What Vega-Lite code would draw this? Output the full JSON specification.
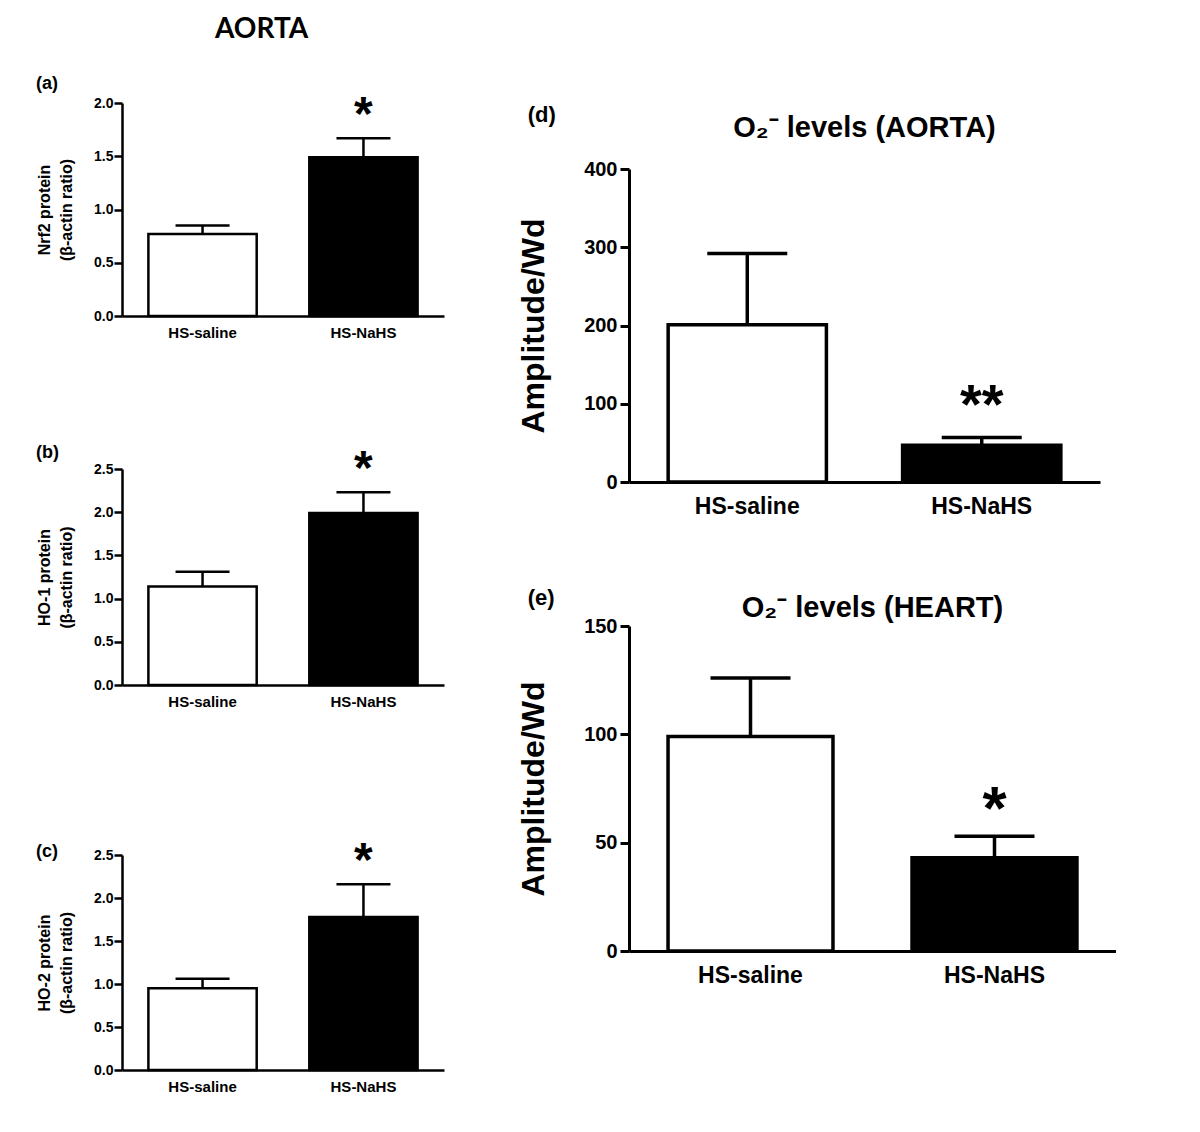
{
  "$schema": "https://vega.github.io/schema/vega-lite/v6.json",
  "padding": {"left": 36, "top": 16, "right": 0, "bottom": 0},
  "background": "white",
  "title": {"text": "AORTA", "font": "Lato", "fontSize": 28, "anchor": "start", "frame": "bounds", "dx": 179, "offset": 31},
  "datasets": {
    "blots": [
      {"panel": "a", "group": "HS-saline", "value": 0.77, "err": 0.85, "sig": ""},
      {"panel": "a", "group": "HS-NaHS", "value": 1.49, "err": 1.67, "sig": "*"},
      {"panel": "b", "group": "HS-saline", "value": 1.14, "err": 1.31, "sig": ""},
      {"panel": "b", "group": "HS-NaHS", "value": 1.99, "err": 2.23, "sig": "*"},
      {"panel": "c", "group": "HS-saline", "value": 0.95, "err": 1.06, "sig": ""},
      {"panel": "c", "group": "HS-NaHS", "value": 1.78, "err": 2.16, "sig": "*"}
    ],
    "o2": [
      {"panel": "d", "group": "HS-saline", "value": 201, "err": 292, "sig": ""},
      {"panel": "d", "group": "HS-NaHS", "value": 47, "err": 57, "sig": "**"},
      {"panel": "e", "group": "HS-saline", "value": 99, "err": 126, "sig": ""},
      {"panel": "e", "group": "HS-NaHS", "value": 43, "err": 53, "sig": "*"}
    ]
  },
  "concat": [
    {
      "spacing": 129,
      "vconcat": [
        {
          "spacing": 104,
          "vconcat": [
            {
              "width": 322, "height": 213,
              "title": {"text": "(a)", "anchor": "start", "frame": "group", "dx": -86, "fontSize": 18, "offset": -1},
              "data": {"name": "blots"},
              "transform": [{"filter": "datum.panel == 'a'"}],
              "encoding": {
                "x": {"field": "group", "type": "nominal", "sort": ["HS-saline", "HS-NaHS"],
                  "scale": {"paddingInner": 0.327, "paddingOuter": 0.164},
                  "axis": {"title": null, "ticks": false, "tickSize": 0, "labelAngle": 0, "labelFontSize": 15, "labelPadding": 9, "domainWidth": 2.5}},
                "y": {"field": "value", "type": "quantitative", "scale": {"domain": [0, 2], "nice": false},
                  "axis": {"title": ["Nrf2 protein", "(β-actin ratio)"], "values": [0, 0.5, 1, 1.5, 2], "format": ".1f",
                    "labelFontSize": 14, "labelPadding": 1, "tickSize": 8, "tickWidth": 2.5, "domainWidth": 2.5,
                    "titleFontSize": 16, "titleLineHeight": 22, "titlePadding": 19}}
              },
              "layer": [
                {"mark": {"type": "bar", "stroke": "black", "strokeWidth": 2.5},
                  "encoding": {"fill": {"field": "group", "type": "nominal", "scale": {"domain": ["HS-saline", "HS-NaHS"], "range": ["white", "black"]}, "legend": null}}},
                {"mark": {"type": "rule", "strokeWidth": 2.5, "color": "black"}, "encoding": {"y2": {"field": "err"}}},
                {"mark": {"type": "tick", "thickness": 2.5, "size": 54, "color": "black", "opacity": 1},
                  "encoding": {"y": {"field": "err", "type": "quantitative"}}},
                {"mark": {"type": "text", "fontSize": 48, "fontWeight": "bold", "baseline": "alphabetic", "dy": -8, "color": "black"},
                  "encoding": {"y": {"field": "err", "type": "quantitative"}, "text": {"field": "sig"}}}
              ]
            },
            {
              "width": 322, "height": 216,
              "title": {"text": "(b)", "anchor": "start", "frame": "group", "dx": -86, "fontSize": 18, "offset": -16},
              "data": {"name": "blots"},
              "transform": [{"filter": "datum.panel == 'b'"}],
              "encoding": {
                "x": {"field": "group", "type": "nominal", "sort": ["HS-saline", "HS-NaHS"],
                  "scale": {"paddingInner": 0.327, "paddingOuter": 0.164},
                  "axis": {"title": null, "ticks": false, "tickSize": 0, "labelAngle": 0, "labelFontSize": 15, "labelPadding": 9, "domainWidth": 2.5}},
                "y": {"field": "value", "type": "quantitative", "scale": {"domain": [0, 2.5], "nice": false},
                  "axis": {"title": ["HO-1 protein", "(β-actin ratio)"], "values": [0, 0.5, 1, 1.5, 2, 2.5], "format": ".1f",
                    "labelFontSize": 14, "labelPadding": 1, "tickSize": 8, "tickWidth": 2.5, "domainWidth": 2.5,
                    "titleFontSize": 16, "titleLineHeight": 22, "titlePadding": 19}}
              },
              "layer": [
                {"mark": {"type": "bar", "stroke": "black", "strokeWidth": 2.5},
                  "encoding": {"fill": {"field": "group", "type": "nominal", "scale": {"domain": ["HS-saline", "HS-NaHS"], "range": ["white", "black"]}, "legend": null}}},
                {"mark": {"type": "rule", "strokeWidth": 2.5, "color": "black"}, "encoding": {"y2": {"field": "err"}}},
                {"mark": {"type": "tick", "thickness": 2.5, "size": 54, "color": "black", "opacity": 1},
                  "encoding": {"y": {"field": "err", "type": "quantitative"}}},
                {"mark": {"type": "text", "fontSize": 48, "fontWeight": "bold", "baseline": "alphabetic", "dy": -8, "color": "black"},
                  "encoding": {"y": {"field": "err", "type": "quantitative"}, "text": {"field": "sig"}}}
              ]
            }
          ],
          "resolve": {"scale": {"x": "independent", "y": "independent"}}
        },
        {
          "width": 322, "height": 215,
          "title": {"text": "(c)", "anchor": "start", "frame": "group", "dx": -86, "fontSize": 18, "offset": -23},
          "data": {"name": "blots"},
          "transform": [{"filter": "datum.panel == 'c'"}],
          "encoding": {
            "x": {"field": "group", "type": "nominal", "sort": ["HS-saline", "HS-NaHS"],
              "scale": {"paddingInner": 0.327, "paddingOuter": 0.164},
              "axis": {"title": null, "ticks": false, "tickSize": 0, "labelAngle": 0, "labelFontSize": 15, "labelPadding": 9, "domainWidth": 2.5}},
            "y": {"field": "value", "type": "quantitative", "scale": {"domain": [0, 2.5], "nice": false},
              "axis": {"title": ["HO-2 protein", "(β-actin ratio)"], "values": [0, 0.5, 1, 1.5, 2, 2.5], "format": ".1f",
                "labelFontSize": 14, "labelPadding": 1, "tickSize": 8, "tickWidth": 2.5, "domainWidth": 2.5,
                "titleFontSize": 16, "titleLineHeight": 22, "titlePadding": 19}}
          },
          "layer": [
            {"mark": {"type": "bar", "stroke": "black", "strokeWidth": 2.5},
              "encoding": {"fill": {"field": "group", "type": "nominal", "scale": {"domain": ["HS-saline", "HS-NaHS"], "range": ["white", "black"]}, "legend": null}}},
            {"mark": {"type": "rule", "strokeWidth": 2.5, "color": "black"}, "encoding": {"y2": {"field": "err"}}},
            {"mark": {"type": "tick", "thickness": 2.5, "size": 54, "color": "black", "opacity": 1},
              "encoding": {"y": {"field": "err", "type": "quantitative"}}},
            {"mark": {"type": "text", "fontSize": 48, "fontWeight": "bold", "baseline": "alphabetic", "dy": -8, "color": "black"},
              "encoding": {"y": {"field": "err", "type": "quantitative"}, "text": {"field": "sig"}}}
          ]
        }
      ],
      "resolve": {"scale": {"x": "independent", "y": "independent"}}
    },
    {
      "spacing": 0,
      "columns": 1,
      "align": "none",
      "concat": [
        {
          "width": 1, "height": 1,
          "data": {"values": []},
          "mark": "point"
        },
        {
          "spacing": 69,
          "columns": 1,
          "align": "none",
          "concat": [
            {
              "title": {"text": "(d)", "anchor": "start", "fontSize": 22, "dx": 10, "offset": -13},
              "vconcat": [
                {
                  "width": 471, "height": 313,
                  "title": {"text": "O₂⁻ levels (AORTA)", "anchor": "middle", "fontSize": 29, "offset": 16},
                  "data": {"name": "o2"},
                  "transform": [{"filter": "datum.panel == 'd'"}],
                  "encoding": {
                    "x": {"field": "group", "type": "nominal", "sort": ["HS-saline", "HS-NaHS"],
                      "scale": {"paddingInner": 0.325, "paddingOuter": 0.167},
                      "axis": {"title": null, "ticks": false, "tickSize": 0, "labelAngle": 0, "labelFontSize": 23, "labelPadding": 13, "domainWidth": 3}},
                    "y": {"field": "value", "type": "quantitative", "scale": {"domain": [0, 400], "nice": false},
                      "axis": {"title": "Amplitude/Wd", "values": [0, 100, 200, 300, 400],
                        "labelFontSize": 20, "labelPadding": 3, "tickSize": 9, "tickWidth": 3, "domainWidth": 3,
                        "titleFontSize": 32, "titlePadding": 33}}
                  },
                  "layer": [
                    {"mark": {"type": "bar", "stroke": "black", "strokeWidth": 3.5},
                      "encoding": {"fill": {"field": "group", "type": "nominal", "scale": {"domain": ["HS-saline", "HS-NaHS"], "range": ["white", "black"]}, "legend": null}}},
                    {"mark": {"type": "rule", "strokeWidth": 3.5, "color": "black"}, "encoding": {"y2": {"field": "err"}}},
                    {"mark": {"type": "tick", "thickness": 3.5, "size": 80, "color": "black", "opacity": 1},
                      "encoding": {"y": {"field": "err", "type": "quantitative"}}},
                    {"mark": {"type": "text", "fontSize": 56, "fontWeight": "bold", "baseline": "alphabetic", "dy": -14, "color": "black"},
                      "encoding": {"y": {"field": "err", "type": "quantitative"}, "text": {"field": "sig"}}}
                  ]
                }
              ]
            },
            {
              "title": {"text": "(e)", "anchor": "start", "fontSize": 22, "dx": 10, "offset": -16},
              "vconcat": [
                {
                  "width": 487, "height": 325,
                  "title": {"text": "O₂⁻ levels (HEART)", "anchor": "middle", "fontSize": 29, "offset": -7},
                  "data": {"name": "o2"},
                  "transform": [{"filter": "datum.panel == 'e'"}],
                  "encoding": {
                    "x": {"field": "group", "type": "nominal", "sort": ["HS-saline", "HS-NaHS"],
                      "scale": {"paddingInner": 0.324, "paddingOuter": 0.16},
                      "axis": {"title": null, "ticks": false, "tickSize": 0, "labelAngle": 0, "labelFontSize": 23, "labelPadding": 13, "domainWidth": 3}},
                    "y": {"field": "value", "type": "quantitative", "scale": {"domain": [0, 150], "nice": false},
                      "axis": {"title": "Amplitude/Wd", "values": [0, 50, 100, 150],
                        "labelFontSize": 20, "labelPadding": 3, "tickSize": 9, "tickWidth": 3, "domainWidth": 3,
                        "titleFontSize": 32, "titlePadding": 33}}
                  },
                  "layer": [
                    {"mark": {"type": "bar", "stroke": "black", "strokeWidth": 3.5},
                      "encoding": {"fill": {"field": "group", "type": "nominal", "scale": {"domain": ["HS-saline", "HS-NaHS"], "range": ["white", "black"]}, "legend": null}}},
                    {"mark": {"type": "rule", "strokeWidth": 3.5, "color": "black"}, "encoding": {"y2": {"field": "err"}}},
                    {"mark": {"type": "tick", "thickness": 3.5, "size": 80, "color": "black", "opacity": 1},
                      "encoding": {"y": {"field": "err", "type": "quantitative"}}},
                    {"mark": {"type": "text", "fontSize": 62, "fontWeight": "bold", "baseline": "alphabetic", "dy": -7, "color": "black"},
                      "encoding": {"y": {"field": "err", "type": "quantitative"}, "text": {"field": "sig"}}}
                  ]
                }
              ]
            }
          ],
          "resolve": {"scale": {"x": "independent", "y": "independent"}}
        }
      ],
      "resolve": {"scale": {"x": "independent", "y": "independent"}}
    }
  ],
  "columns": 2,
  "align": "none",
  "spacing": 73,
  "resolve": {"scale": {"x": "independent", "y": "independent"}},
  "config": {
    "font": "Liberation Sans",
    "view": {"stroke": null},
    "axis": {
      "grid": false,
      "domainColor": "black",
      "tickColor": "black",
      "labelColor": "black",
      "titleColor": "black",
      "labelFont": "Liberation Sans",
      "titleFont": "Liberation Sans",
      "labelFontWeight": "bold",
      "titleFontWeight": "bold"
    },
    "title": {"font": "Liberation Sans", "fontWeight": "bold", "color": "black"}
  }
}
